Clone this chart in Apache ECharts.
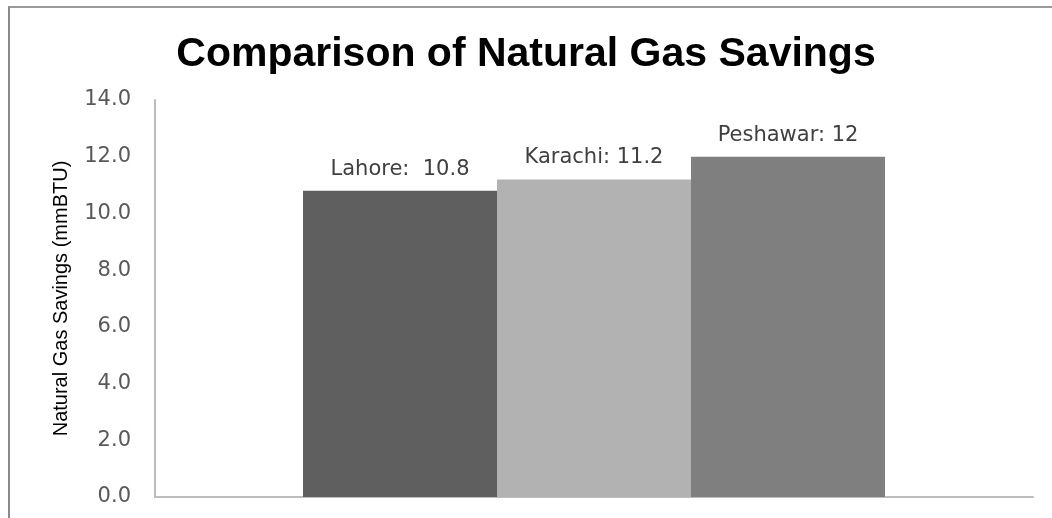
<!DOCTYPE html>
<html>
<head>
<meta charset="utf-8">
<script src="https://cdn.jsdelivr.net/npm/echarts@6/dist/echarts.min.js"></script>
<style>
  html, body { margin: 0; padding: 0; background: #fff; }
  #frame {
    position: absolute; left: 8px; top: 6px; width: 1100px; height: 600px;
    border-top: 2px solid #9a9a9a; border-left: 2px solid #8a8a8a;
  }
  #chart { position: absolute; left: 0; top: 0; width: 1052px; height: 518px; }
</style>
</head>
<body>
<div id="frame"></div>
<div id="chart"></div>
<script>
// data
const cities = ["Lahore", "Karachi", "Peshawar"];
const savings = [10.8, 11.2, 12];
const barLabels = ["Lahore:  10.8", "Karachi: 11.2", "Peshawar: 12"];
const barColors = ["#5f5f5f", "#b2b2b2", "#7f7f7f"];

const chart = echarts.init(document.getElementById("chart"));

chart.setOption({
  animation: false,
  title: {
    text: "Comparison of Natural Gas Savings",
    left: "center",
    top: 29,
    textStyle: {
      fontFamily: "Liberation Sans",
      fontWeight: "bold",
      fontSize: 41,
      color: "#000",
    },
  },
  grid: { left: 155, right: 19, top: 100, bottom: 21, containLabel: false },
  xAxis: {
    type: "category",
    data: [""],
    axisLine: { lineStyle: { color: "#bdbdbd", width: 2 } },
    axisTick: { show: false },
    axisLabel: { show: false },
  },
  yAxis: {
    type: "value",
    min: 0,
    max: 14,
    interval: 2,
    name: "Natural Gas Savings (mmBTU)",
    nameLocation: "middle",
    nameGap: 84,
    nameTextStyle: { fontFamily: "Liberation Sans", fontSize: 20, color: "#000" },
    axisLine: { show: true, lineStyle: { color: "#bdbdbd", width: 2 } },
    axisTick: { show: false },
    splitLine: { show: false },
    axisLabel: {
      margin: 24,
      fontFamily: "DejaVu Sans",
      fontSize: 21,
      color: "#595959",
      formatter: (v) => v.toFixed(1),
    },
  },
  series: cities.map((city, i) => ({
    name: city,
    type: "bar",
    barWidth: 194,
    barGap: "0%",
    data: [savings[i]],
    itemStyle: { color: barColors[i] },
    label: {
      show: true,
      position: "top",
      distance: 11,
      fontFamily: "DejaVu Sans",
      fontSize: 21,
      color: "#404040",
      formatter: () => barLabels[i],
    },
  })),
});
</script>
</body>
</html>
